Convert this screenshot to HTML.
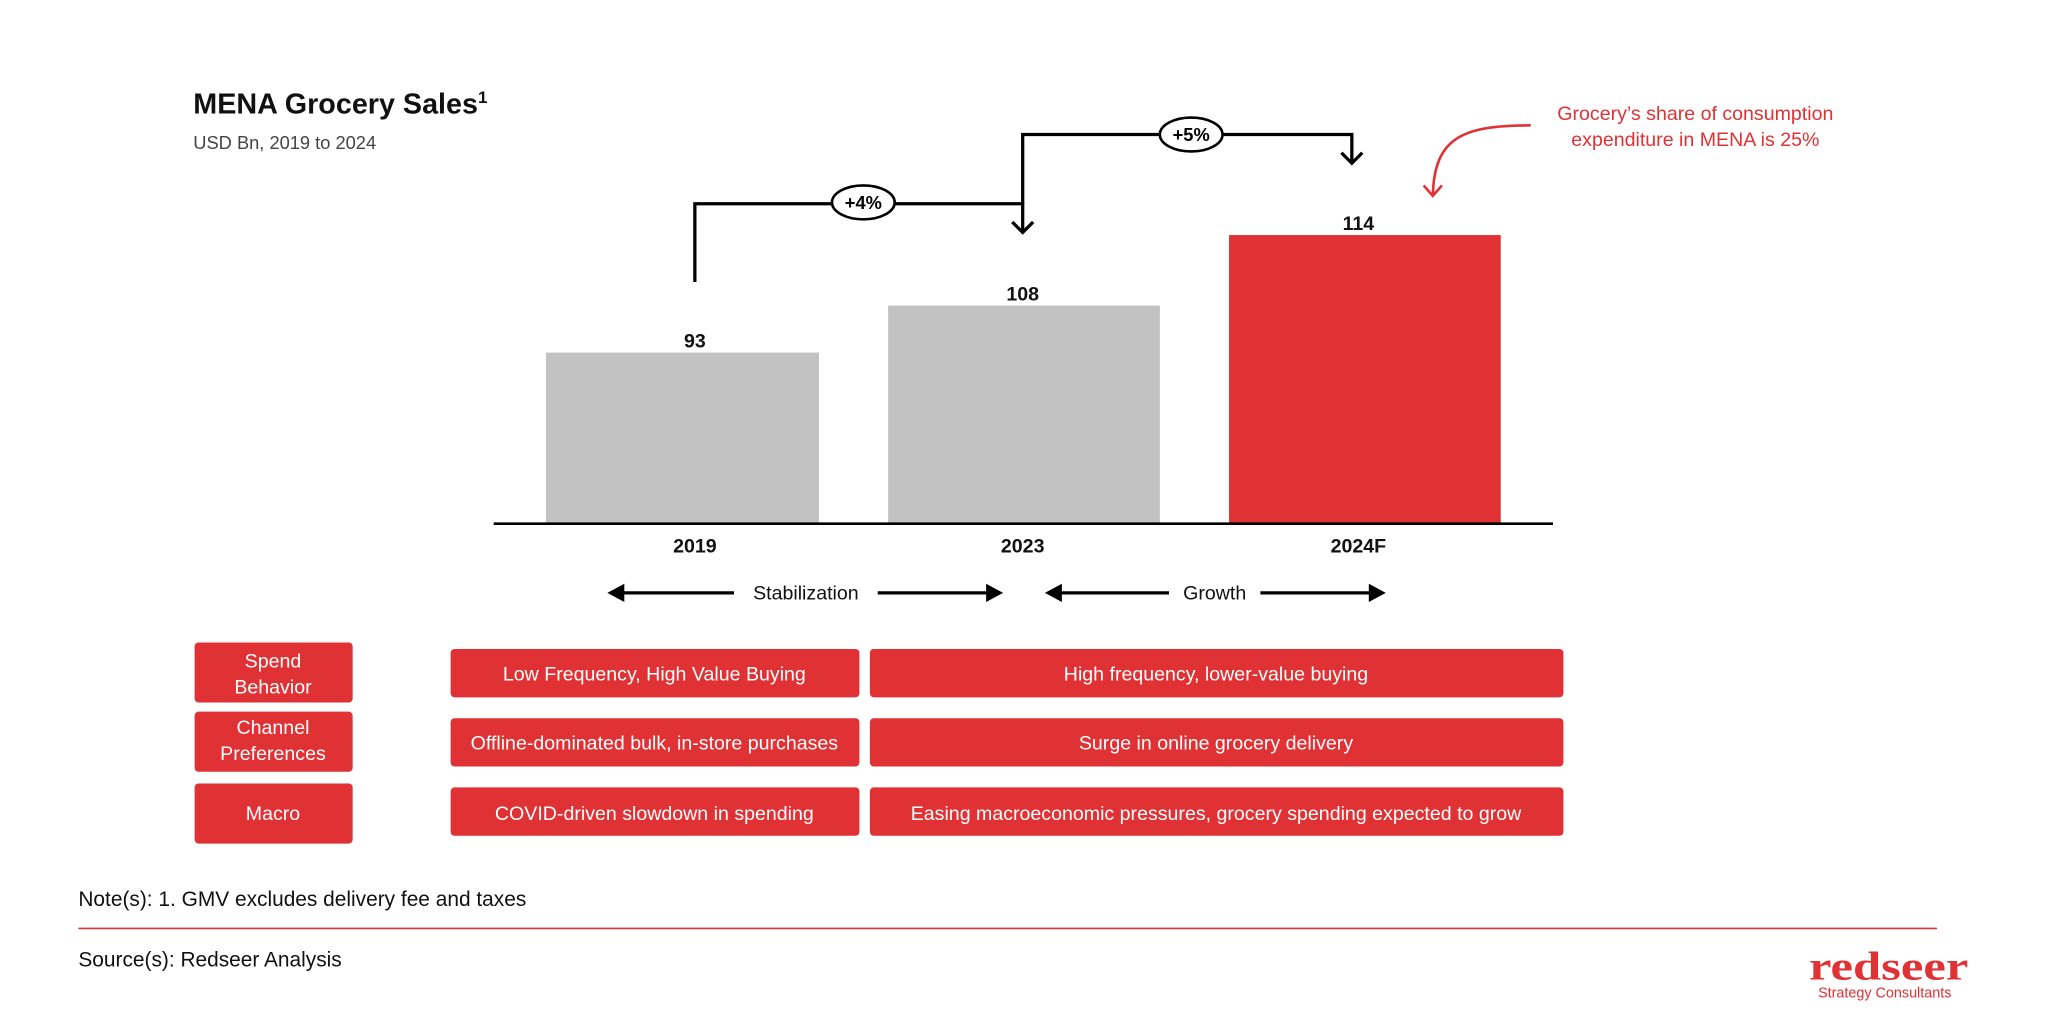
<!DOCTYPE html>
<html><head><meta charset="utf-8"><style>
html,body{margin:0;padding:0;background:#fff;}
svg{display:block;}
text{font-family:"Liberation Sans",sans-serif;}
</style></head><body>
<svg width="2048" height="1029" viewBox="0 0 1568 788" preserveAspectRatio="none" xmlns="http://www.w3.org/2000/svg">
<rect width="1568" height="788" fill="#fff"/>
<text x="148" y="87" font-size="22" font-weight="bold" fill="#111">MENA Grocery Sales<tspan font-size="13" dy="-8">1</tspan></text>
<text x="148" y="114" font-size="14" fill="#444">USD Bn, 2019 to 2024</text>
<rect x="418" y="270" width="209" height="131" fill="#c2c2c2"/>
<rect x="680" y="234" width="208" height="167" fill="#c2c2c2"/>
<rect x="941" y="180" width="208" height="221" fill="#e03134"/>
<line x1="378" y1="401" x2="1189" y2="401" stroke="#000" stroke-width="2"/>
<g font-size="15" font-weight="bold" fill="#111" text-anchor="middle">
<text x="532" y="266">93</text><text x="783" y="230">108</text><text x="1040" y="176">114</text>
<text x="532" y="423">2019</text><text x="783" y="423">2023</text><text x="1040" y="423">2024F</text>
</g>
<path d="M532,216 V156 H783 V178" fill="none" stroke="#000" stroke-width="2.5"/>
<path d="M775,170 L783,178 L791,170" fill="none" stroke="#000" stroke-width="2.5"/>
<path d="M783,156 V103 H1035 V125" fill="none" stroke="#000" stroke-width="2.5"/>
<path d="M1027,117 L1035,125 L1043,117" fill="none" stroke="#000" stroke-width="2.5"/>
<ellipse cx="661" cy="155" rx="24" ry="13" fill="#fff" stroke="#000" stroke-width="2"/>
<ellipse cx="912" cy="103" rx="24" ry="13" fill="#fff" stroke="#000" stroke-width="2"/>
<text x="661" y="160" font-size="14" font-weight="bold" text-anchor="middle">+4%</text>
<text x="912" y="108" font-size="14" font-weight="bold" text-anchor="middle">+5%</text>
<text x="1298" y="92" font-size="15" fill="#e03134" text-anchor="middle">Grocery’s share of consumption</text>
<text x="1298" y="112" font-size="15" fill="#e03134" text-anchor="middle">expenditure in MENA is 25%</text>
<path d="M1172,96 C1120,96 1098,105 1097,150" fill="none" stroke="#e03134" stroke-width="2"/>
<path d="M1090,142 L1097,150 L1104,142" fill="none" stroke="#e03134" stroke-width="2"/>
<g stroke="#000" stroke-width="2.5">
<line x1="470" y1="454" x2="562" y2="454"/><line x1="672" y1="454" x2="762" y2="454"/>
<line x1="805" y1="454" x2="895" y2="454"/><line x1="965" y1="454" x2="1055" y2="454"/>
</g>
<g fill="#000">
<path d="M465,454 L478,447 L478,461Z"/><path d="M768,454 L755,447 L755,461Z"/>
<path d="M800,454 L813,447 L813,461Z"/><path d="M1061,454 L1048,447 L1048,461Z"/>
</g>
<text x="617" y="459" font-size="15" text-anchor="middle" fill="#111">Stabilization</text>
<text x="930" y="459" font-size="15" text-anchor="middle" fill="#111">Growth</text>
<g fill="#e03134">
<rect x="149" y="492" width="121" height="46" rx="3"/>
<rect x="149" y="545" width="121" height="46" rx="3"/>
<rect x="149" y="600" width="121" height="46" rx="3"/>
<rect x="345" y="497" width="313" height="37" rx="3"/>
<rect x="666" y="497" width="531" height="37" rx="3"/>
<rect x="345" y="550" width="313" height="37" rx="3"/>
<rect x="666" y="550" width="531" height="37" rx="3"/>
<rect x="345" y="603" width="313" height="37" rx="3"/>
<rect x="666" y="603" width="531" height="37" rx="3"/>
</g>
<g fill="#fff" font-size="15" text-anchor="middle">
<text x="209" y="511">Spend</text><text x="209" y="531">Behavior</text>
<text x="209" y="562">Channel</text><text x="209" y="582">Preferences</text>
<text x="209" y="628">Macro</text>
<text x="501" y="521">Low Frequency, High Value Buying</text>
<text x="931" y="521">High frequency, lower-value buying</text>
<text x="501" y="574">Offline-dominated bulk, in-store purchases</text>
<text x="931" y="574">Surge in online grocery delivery</text>
<text x="501" y="628">COVID-driven slowdown in spending</text>
<text x="931" y="628">Easing macroeconomic pressures, grocery spending expected to grow</text>
</g>
<text x="60" y="694" font-size="16" fill="#111">Note(s): 1. GMV excludes delivery fee and taxes</text>
<line x1="60" y1="711" x2="1483" y2="711" stroke="#e03134" stroke-width="1.2"/>
<text x="60" y="740" font-size="16" fill="#111">Source(s): Redseer Analysis</text>
<text x="1446" y="750" font-size="31" font-weight="bold" fill="#e03134" text-anchor="middle" textLength="122" lengthAdjust="spacingAndGlyphs" style="font-family:'Liberation Serif',serif">redseer</text>
<text x="1443" y="764" font-size="11" fill="#e03134" text-anchor="middle">Strategy Consultants</text>
</svg>
</body></html>
